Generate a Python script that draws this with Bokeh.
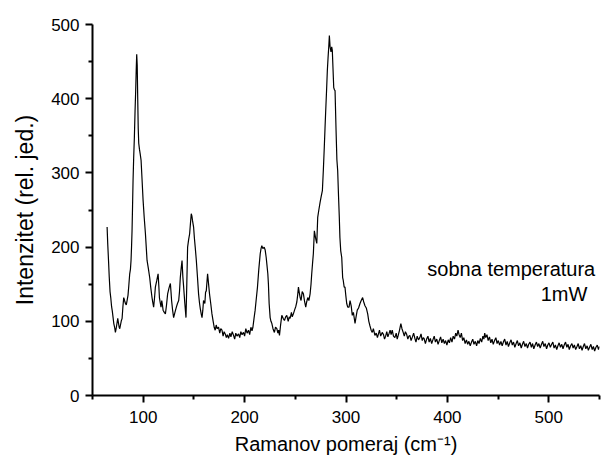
from bokeh.plotting import figure
from bokeh.models import Range1d, FixedTicker, Label
from bokeh.embed import file_html
from bokeh.resources import INLINE

raman_shift = [
    64.4, 65.0, 65.8, 66.5, 67.3, 68.0, 68.8, 69.5, 70.3, 71.0, 71.8, 72.6, 73.3, 74.0, 74.9, 75.6,
    76.3, 76.9, 77.6, 78.3, 79.2, 80.0, 80.8, 81.6, 82.5, 83.3, 84.1, 85.0, 85.8, 86.7, 87.4, 88.0,
    88.5, 89.0, 89.5, 90.0, 90.6, 91.3, 92.0, 92.6, 93.1, 93.6, 94.1, 94.6, 95.1, 95.6, 96.3, 97.1,
    97.9, 98.9, 99.9, 101.0, 102.2, 103.0, 103.8, 105.0, 106.4, 107.5, 108.7, 109.5, 110.3, 111.2,
    112.0, 113.4, 114.7, 115.4, 116.0, 116.8, 117.6, 118.3, 119.0, 119.6, 120.8, 121.9, 123.0, 124.1,
    125.5, 126.8, 127.4, 128.0, 129.0, 130.0, 131.3, 132.7, 133.8, 135.0, 135.8, 136.6, 137.5, 138.3,
    139.1, 139.9, 141.0, 142.2, 143.0, 143.8, 144.8, 145.8, 146.6, 147.4, 148.0, 148.6, 149.7, 150.5,
    151.3, 152.4, 153.5, 154.6, 155.5, 156.3, 157.2, 158.0, 158.8, 159.5, 160.8, 161.5, 162.2, 163.0,
    163.5, 164.5, 165.4, 166.6, 167.8, 169.0, 170.0, 171.0, 172.0, 173.0, 174.3, 175.5, 176.5, 177.7,
    178.8, 179.8, 180.9, 182.0, 183.0, 184.2, 185.5, 186.5, 187.8, 189.1, 190.2, 191.3, 192.5, 194.0,
    195.2, 196.3, 197.5, 198.9, 200.0, 201.2, 202.5, 203.8, 205.0, 206.2, 207.3, 208.2, 209.3, 210.4,
    211.5, 212.7, 214.0, 215.4, 216.2, 217.0, 218.0, 219.3, 220.3, 221.3, 222.1, 222.9, 223.5, 224.2,
    225.2, 226.0, 226.9, 228.0, 229.4, 230.5, 231.8, 232.8, 233.6, 234.4, 235.5, 236.7, 238.0, 239.3,
    240.5, 241.6, 243.0, 244.0, 244.9, 246.2, 247.0, 248.1, 249.5, 250.5, 251.5, 252.3, 253.1, 254.0,
    254.8, 255.7, 256.8, 258.0, 259.0, 260.3, 261.2, 262.3, 263.4, 264.6, 265.5, 266.2, 267.0, 267.8,
    268.8, 270.0, 271.2, 271.7, 272.1, 273.2, 274.4, 275.5, 276.7, 277.7, 278.6, 279.3, 280.0, 280.8,
    281.6, 282.3, 283.0, 283.6, 284.3, 285.2, 285.9, 286.5, 287.2, 287.9, 288.6, 289.2, 290.2, 291.0,
    291.8, 292.6, 293.4, 294.0, 294.8, 295.8, 296.7, 297.3, 298.2, 299.0, 299.8, 300.7, 301.7, 303.0,
    304.0, 305.2, 306.2, 307.3, 308.9, 309.8, 311.1, 312.4, 313.8, 315.0, 316.4, 317.5, 318.7, 320.0,
    321.4, 322.5, 323.6, 324.8, 325.9, 327.0, 328.5, 329.8, 331.0, 331.8, 333.0, 334.2, 335.7, 337.0,
    338.0, 339.1, 340.2, 341.3, 342.3, 343.5, 344.5, 345.6, 346.8, 348.2, 349.5, 350.5, 351.5, 352.8,
    354.1, 355.2, 356.4, 357.5, 358.6, 359.7, 361.0, 362.0, 363.0, 364.2, 365.5, 366.7, 367.9, 369.0,
    370.2, 371.5, 372.8, 374.0, 375.2, 376.2, 377.0, 378.3, 379.5, 380.8, 382.0, 383.2, 384.5, 385.7,
    387.0, 388.2, 389.5, 390.8, 392.0, 393.3, 394.5, 395.8, 397.0, 398.2, 399.5, 400.8, 402.0, 403.2,
    404.5, 405.7, 407.0, 408.2, 409.3, 410.5, 411.5, 412.6, 413.8, 415.0, 416.2, 417.5, 418.8, 420.0,
    421.2, 422.5, 423.8, 425.0, 426.2, 427.5, 428.8, 430.0, 431.2, 432.5, 433.8, 435.0, 436.0, 436.8,
    437.8, 439.0, 440.2, 441.5, 442.8, 444.0, 445.2, 446.5, 447.8, 449.0, 450.2, 451.5, 452.8, 454.0,
    455.2, 456.5, 457.8, 459.0, 460.2, 461.5, 462.8, 464.0, 465.2, 466.5, 467.8, 469.0, 470.2, 471.5,
    472.8, 474.0, 475.2, 476.5, 477.8, 479.0, 480.2, 481.5, 482.8, 484.0, 485.2, 486.5, 487.8, 489.0,
    490.2, 491.5, 492.8, 494.0, 495.2, 496.5, 497.8, 499.0, 500.2, 501.5, 502.8, 504.0, 505.2, 506.5,
    507.8, 509.0, 510.2, 511.5, 512.8, 514.0, 515.2, 516.5, 517.8, 519.0, 520.2, 521.5, 522.8, 524.0,
    525.2, 526.5, 527.8, 529.0, 530.2, 531.5, 532.8, 534.0, 535.2, 536.5, 537.8, 539.0, 540.2, 541.5,
    542.8, 544.0, 545.2, 546.5, 547.8, 549.0, 550.0,
]

intensity = [
    227, 205, 182, 160, 140, 132, 120, 114, 105, 97, 92, 85, 90, 96, 104, 98,
    92, 90, 95, 100, 104, 120, 132, 128, 124, 122, 128, 135, 148, 164, 170, 182,
    200, 222, 255, 290, 320, 348, 385, 411, 438, 460, 445, 400, 360, 340, 332, 325,
    317, 290, 263, 240, 218, 200, 182, 172, 159, 145, 132, 125, 119, 132,
    146, 155, 164, 148, 132, 125, 119, 128, 122, 115, 112, 110, 122, 137,
    145, 151, 140, 128, 115, 105, 112, 119, 124, 128, 140, 159, 172, 182,
    160, 146, 125, 105, 150, 200, 210, 218, 232, 245, 242, 236, 227, 212,
    200, 182, 160, 137, 125, 117, 110, 105, 115, 128, 124, 139, 141, 155,
    164, 150, 137, 124, 110, 100, 92, 88, 95, 90, 92, 84, 90, 88,
    80, 86, 83, 78, 82, 77, 84, 79, 86, 81, 76, 84, 80, 83,
    78, 86, 82, 85, 80, 90, 84, 88, 82, 92, 87, 92, 104, 115,
    130, 146, 170, 191, 198, 202, 198, 200, 196, 186, 175, 164, 150, 124,
    105, 100, 97, 90, 85, 92, 90, 84, 88, 81, 95, 108, 104, 101,
    106, 108, 100, 106, 104, 112, 106, 110, 116, 120, 126, 135, 146, 138,
    132, 128, 140, 137, 128, 119, 126, 132, 128, 137, 150, 164, 178, 191,
    222, 212, 205, 225, 240, 250, 260, 268, 276, 305, 335, 360, 384, 410,
    438, 455, 470, 485, 470, 463, 470, 465, 440, 415, 412, 411, 357, 318,
    303, 270, 240, 213, 195, 186, 159, 155, 146, 146, 135, 124, 119, 119,
    128, 120, 108, 112, 97, 105, 115, 118, 124, 128, 132, 126, 121, 118,
    110, 100, 94, 88, 85, 90, 81, 84, 78, 82, 88, 80, 85, 82,
    76, 80, 86, 79, 83, 88, 82, 88, 80, 78, 84, 76, 81, 88,
    97, 90, 85, 80, 86, 83, 76, 80, 81, 74, 79, 84, 77, 72,
    80, 75, 78, 83, 74, 78, 77, 70, 76, 80, 72, 77, 70, 75,
    80, 72, 76, 69, 74, 79, 71, 76, 70, 74, 68, 75, 71, 78,
    72, 80, 76, 84, 80, 88, 82, 78, 84, 74, 78, 70, 75, 69,
    73, 67, 72, 76, 69, 73, 67, 74, 70, 77, 72, 80, 76, 84,
    78, 82, 74, 79, 71, 76, 69, 74, 78, 70, 74, 68, 73, 67,
    72, 76, 68, 73, 66, 71, 75, 68, 72, 65, 70, 74, 67, 71,
    64, 69, 73, 66, 70, 64, 69, 72, 65, 70, 63, 68, 72, 66,
    70, 64, 69, 73, 66, 70, 63, 68, 71, 65, 69, 72, 64, 68,
    62, 67, 71, 65, 69, 63, 68, 72, 65, 69, 62, 67, 70, 64,
    68, 62, 66, 70, 63, 67, 61, 66, 70, 63, 67, 61, 65, 69,
    62, 66, 60, 65, 68, 62, 66,
]

x_major = [100, 200, 300, 400, 500]
x_minor = [50, 150, 250, 350, 450, 550]
y_major = [0, 100, 200, 300, 400, 500]
y_minor = [50, 150, 250, 350, 450]

annotation_line1 = "sobna temperatura"
annotation_line2 = "1mW"

FONT = "Liberation Sans"

p = figure(width=613, height=461, output_backend="svg", toolbar_location=None,
           x_range=Range1d(50, 550), y_range=Range1d(0, 500),
           min_border_left=92, min_border_right=14, min_border_top=24, min_border_bottom=66)

p.line(raman_shift, intensity, line_color="black", line_width=1.2)

p.grid.visible = False
p.outline_line_color = None
p.background_fill_color = "white"
p.border_fill_color = "white"

p.xaxis.ticker = FixedTicker(ticks=x_major, minor_ticks=x_minor)
p.yaxis.ticker = FixedTicker(ticks=y_major, minor_ticks=y_minor)

for ax in (p.xaxis[0], p.yaxis[0]):
    ax.axis_line_width = 2
    ax.axis_line_color = "black"
    ax.major_tick_line_width = 2
    ax.major_tick_line_color = "black"
    ax.minor_tick_line_width = 2
    ax.minor_tick_line_color = "black"
    ax.major_tick_out = 7
    ax.major_tick_in = 0
    ax.minor_tick_out = 4
    ax.minor_tick_in = 0
    ax.major_label_text_font = FONT
    ax.major_label_text_font_size = "17px"
    ax.major_label_text_color = "black"
    ax.axis_label_text_font = FONT
    ax.axis_label_text_font_style = "normal"
    ax.axis_label_text_color = "black"

p.xaxis.axis_label = "Ramanov pomeraj (cm⁻¹)"
p.yaxis.axis_label = "Intenzitet (rel. jed.)"
p.xaxis.axis_label_text_font_size = "20px"
p.yaxis.axis_label_text_font_size = "23px"
p.xaxis.major_label_standoff = 8
p.xaxis.axis_label_standoff = 7
p.yaxis.major_label_standoff = 6
p.yaxis.axis_label_standoff = 10

p.add_layout(Label(x=463, y=171, text=annotation_line1, text_align="center",
                   text_baseline="alphabetic", text_font=FONT, text_font_size="20px",
                   text_color="black"))
p.add_layout(Label(x=515, y=137, text=annotation_line2, text_align="center",
                   text_baseline="alphabetic", text_font=FONT, text_font_size="20px",
                   text_color="black"))

open("out.html", "w").write(file_html(p, INLINE))
